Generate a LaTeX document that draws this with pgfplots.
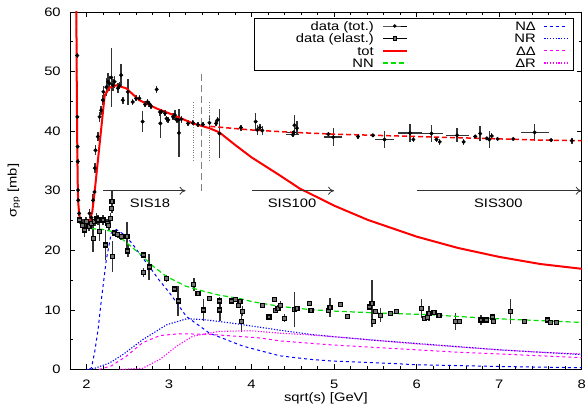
\documentclass[border=0pt]{standalone}
\usepackage{fontspec}
\setmainfont{Liberation Sans}[FakeStretch=1.2]
\usepackage{pgfplots}
\pgfplotsset{compat=1.18}
\usepackage{pgfplotstable}
\usetikzlibrary{arrows.meta}
\definecolor{gpred}{RGB}{255,0,0}
\definecolor{gpgreen}{RGB}{0,225,0}
\definecolor{gpblue}{RGB}{0,0,255}
\definecolor{gpmag}{RGB}{255,0,255}

\pgfplotstableread{
x y ex ey
1.887 52.7 0 0.5
1.889 42.4 0 0.5
1.892 37.4 0 0.5
1.894 34.9 0 0.4
1.897 30.1 0 0.4
1.900 28.4 0 0.4
1.910 26.2 0 0.4
1.940 24.5 0 0.8
1.970 23.9 0 1.0
2.000 24.8 0 0.8
2.036 26.2 0 0.8
2.060 25.5 0 1.0
2.080 28.4 0 1.0
2.097 29.8 0 0.8
2.100 33.8 0 0.8
2.109 36.8 0 0.8
2.137 39.1 0 0.8
2.158 42.4 0 0.8
2.178 43.5 0 0.8
2.198 45.2 0 0.8
2.205 46.6 0 1.0
2.240 47.4 0 1.5
2.260 48.3 0 1.5
2.280 48.0 0 1.2
2.300 49.0 0 5.0
2.320 47.7 0 1.0
2.340 48.3 0 1.0
2.380 47.2 0 0.8
2.400 47.6 0 0.6
2.420 49.4 0 1.8
2.440 45.2 0 0.6
2.500 46.6 0 2.2
2.560 44.9 0 0.5
2.600 45.5 0 0.5
2.640 45.5 0 0.5
2.680 41.6 0 1.8
2.710 44.5 0 0.5
2.740 44.9 0 0.5
2.760 44.6 0 0.5
2.780 44.2 0 0.4
2.850 47.0 0 0.6
2.890 43.2 0 0.6
2.895 41.3 0 2.5
2.910 43.3 0 0.5
2.950 43.0 0 0.5
2.970 42.1 0 0.5
2.990 41.9 0 0.5
3.050 42.4 0 0.6
3.070 42.7 0 0.8
3.090 41.9 0 0.6
3.110 41.9 0 0.5
3.120 39.7 0 4.0
3.150 42.0 0 0.6
3.230 41.3 0 0.5
3.290 41.4 0 0.4
3.350 41.1 0 0.4
3.410 41.1 0 0.4
3.490 41.4 0 1.1
3.570 41.3 0 0.5
3.590 41.9 0 0.5
3.610 39.6 0 4.1
3.870 40.6 0 0.5
4.050 41.6 0 1.5
4.070 40.2 0 0.8
4.100 40.6 0 0.6
4.130 40.1 0 0.8
4.500 39.4 0.08 0.3
4.520 41.0 0 1.7
4.550 40.5 0 1.2
4.510 39.8 0.09 0.3
4.930 39.5 0 0.4
4.990 39.0 0.11 1.5
5.290 39.1 0 0.4
5.470 39.3 0 0.3
5.610 38.6 0.12 1.4
5.920 39.7 0.14 1.5
5.960 38.6 0 0.5
6.180 39.6 0.14 1.4
6.240 38.6 0 0.5
6.280 38.2 0 0.5
6.490 39.3 0.14 1.2
6.570 38.2 0 0.5
6.710 39.1 0 0.3
6.770 39.6 0 1.2
6.850 38.8 0 0.3
6.880 38.6 0 1.5
6.910 39.2 0 0.5
6.980 38.7 0 0.2
7.170 38.7 0 0.2
7.430 39.8 0.17 1.4
7.630 38.5 0 0.2
7.880 38.4 0 0.5
}\totdata

\pgfplotstableread{
x y ex ey
1.915 25.1 0 0.5
1.955 24.2 0 1.0
1.976 23.4 0 1.2
1.996 24.8 0 0.8
2.030 24.0 0 0.8
2.060 24.5 0 1.0
2.080 22.0 0 2.2
2.100 24.8 0 0.8
2.120 25.4 0 0.8
2.140 25.1 0 0.8
2.160 23.1 0 1.6
2.200 25.1 0 0.8
2.230 20.9 0 2.5
2.250 24.5 0 0.8
2.270 24.2 0 0.8
2.290 25.4 0 0.8
2.300 27.0 0 0.8
2.310 28.2 0 2.0
2.315 18.9 0 2.6
2.340 22.9 0 0.5
2.380 22.6 0 0.5
2.420 22.3 0 0.5
2.490 22.3 0 2.5
2.500 19.9 0 1.0
2.690 19.2 0 0.5
2.690 16.3 0 0.8
2.760 17.2 0 2.2
2.970 15.3 0 0.6
3.070 13.5 0 0.5
3.110 11.5 0 2.5
3.300 14.3 0 1.1
3.350 12.8 0 0.4
3.420 10.0 0 1.9
3.490 11.9 0 0.3
3.610 11.5 0 0.7
3.615 10.0 0 1.8
3.760 11.5 0 0.3
3.810 11.8 0 0.3
3.840 10.7 0 0.4
3.860 11.4 0 0.3
3.890 9.8 0 0.8
3.880 8.0 0 1.7
4.130 10.8 0 0.3
4.210 8.8 0 0.3
4.280 11.7 0 0.3
4.290 9.9 0 0.4
4.320 10.3 0 0.5
4.350 10.8 0 0.7
4.400 8.6 0 0.7
4.520 10.1 0 2.9
4.550 10.3 0 0.4
4.700 11.1 0 0.3
4.720 9.9 0 0.3
4.930 9.9 0 0.3
4.950 10.4 0 1.6
5.080 10.9 0 0.3
5.160 8.9 0 0.3
5.430 10.5 0 0.3
5.460 11.1 0 3.9
5.480 8.1 0 0.3
5.500 9.7 0 0.3
5.560 9.1 0 1.2
5.680 9.4 0 0.3
5.760 9.7 0 0.3
6.060 10.3 0 1.6
6.100 8.6 0 0.3
6.130 8.7 0 0.3
6.150 9.4 0 1.2
6.210 9.6 0 0.3
6.270 9.0 0 0.3
6.470 8.0 0 1.4
6.520 8.1 0 0.3
6.780 8.3 0 0.9
6.850 8.3 0 0.3
6.920 8.8 0 0.3
6.930 8.0 0 0.3
7.140 9.8 0 2.1
7.310 8.0 0 0.3
7.590 8.3 0 0.3
7.620 7.9 0 0.3
7.690 7.9 0 0.3
}\elasdata

\begin{document}
\fontsize{12.3}{14.5}\selectfont
\begin{tikzpicture}
\begin{axis}[
  width=511.7pt, height=357.5pt, scale only axis,
  xmin=1.8, xmax=8, ymin=0, ymax=60,
  xtick={2,3,4,5,6,7,8}, ytick={0,10,20,30,40,50,60},
  minor x tick num=4, minor y tick num=1,
  tick align=inside, major tick length=5pt, minor tick length=3pt,
  axis line style={line width=0.9pt, black},
  every tick/.style={line width=0.7pt, black},
  /pgf/number format/assume math mode=true,
  tick label style={font=\fontsize{12.3}{14.5}\selectfont},
  xticklabel style={yshift=-6pt},
  yticklabel style={xshift=-5pt},
  xlabel={sqrt(s) [GeV]},
  ylabel={σ\textsubscript{pp} [mb]},
  every axis x label/.style={at={(axis description cs:0.5,0)}, anchor=north, yshift=-18.5pt},
  every axis y label/.style={at={(axis description cs:-0.1094,0.5)}, anchor=center, rotate=90},
  legend columns=2, legend plot pos=right,
  legend image code/.code={\draw[mark repeat=2,mark phase=2,#1] plot coordinates {(0pt,0pt) (12pt,0pt) (24pt,0pt)};},
  legend style={at={(0.9836,0.982)}, anchor=north east, draw=black, line width=0.8pt,
    inner xsep=4pt, inner ysep=1pt, row sep=0pt,
    nodes={inner sep=0pt},
    font=\fontsize{12.3}{14.5}\selectfont,
    /tikz/column 1/.style={column sep=8pt},
    /tikz/column 2/.style={column sep=48pt},
    /tikz/column 3/.style={column sep=8pt}},
  error bars/error bar style={line width=1.5pt, black!80},
  error bars/error mark=none,
]
\coordinate (ll) at (rel axis cs:0,0);
\coordinate (ur) at (rel axis cs:1,1);

% data
\addplot[forget plot, only marks, mark=*, mark size=1.8pt, black,
  error bars/.cd, x dir=both, x explicit, y dir=both, y explicit]
  table[x=x, y=y, x error=ex, y error=ey] {\totdata};
\addplot[forget plot, only marks, mark=square*, mark size=2pt, mark options={line width=1.2pt, fill=black!55, draw=black}, black,
  error bars/.cd, x dir=both, x explicit, y dir=both, y explicit]
  table[x=x, y=y, x error=ex, y error=ey] {\elasdata};

% vertical markers
\addplot[forget plot, gray, line width=1.3pt, dash pattern=on 7pt off 4pt] coordinates {(3.39,30) (3.39,50)};
\addplot[forget plot, gray, line width=0.8pt, dash pattern=on 1pt off 1.5pt] coordinates {(3.29,35) (3.29,45)};
\addplot[forget plot, gray, line width=0.8pt, dash pattern=on 1pt off 1.5pt] coordinates {(3.49,35) (3.49,45)};

% model curves
\addplot[forget plot, gpblue, line width=1pt, dash pattern=on 3pt off 3pt] coordinates {
(2.04,0) (2.06,0.3) (2.10,3) (2.14,6.7) (2.18,11.7) (2.24,18.4) (2.30,22.9) (2.36,23.5)
(2.45,22.7) (2.55,21.2) (2.65,19.3) (2.76,17.3) (2.88,15.0) (3.01,12.8) (3.21,8.9) (3.49,6.1)
(3.9,3.9) (4.34,2.3) (4.71,1.7) (5.0,1.4) (5.56,1.1) (6.0,0.8) (7.0,0.5) (8.0,0.3)};
\addplot[forget plot, gpblue, line width=1.1pt, dash pattern=on 1.2pt off 1.6pt] coordinates {
(2.0,0) (2.1,0.2) (2.28,1.1) (2.45,2.6) (2.68,5.0) (2.97,7.5) (3.21,8.5) (3.4,8.4) (3.70,7.9)
(4.0,7.3) (4.34,6.6) (4.71,5.9) (5.0,5.5) (5.5,4.9) (6.16,4.2) (7.0,3.3) (7.5,2.9) (8.0,2.5)};
\addplot[forget plot, gpmag, line width=1pt, dash pattern=on 3pt off 3pt] coordinates {
(2.15,0) (2.3,0.6) (2.48,2.2) (2.68,4.5) (2.89,5.7) (3.13,6.0) (3.49,5.9) (4.1,5.3) (4.34,4.8)
(4.71,4.4) (5.0,4.1) (5.5,3.7) (6.0,3.3) (6.5,2.9) (7.0,2.6) (7.5,2.3) (8.0,2.0)};
\addplot[forget plot, gpmag, line width=1.1pt, dash pattern=on 1.2pt off 1.6pt] coordinates {
(2.4,0) (2.68,0.2) (2.89,1.7) (3.09,3.9) (3.29,5.6) (3.61,6.4) (4.0,6.5) (4.34,6.1) (4.71,5.8)
(5.0,5.5) (5.5,4.9) (6.0,4.3) (6.5,3.8) (7.0,3.3) (7.5,2.9) (8.0,2.6)};
\addplot[forget plot, gpgreen, line width=1.2pt, dash pattern=on 5pt off 3pt] coordinates {
(1.876,64) (1.880,52) (1.885,42) (1.890,35) (1.895,30) (1.900,28) (1.910,26.3) (1.920,25.3)
(1.940,24.3) (1.960,23.9) (2.0,23.7) (2.1,23.6) (2.2,23.5) (2.3,23.2) (2.4,22.3) (2.5,21.1)
(2.64,19.5) (2.8,17.4) (2.97,15.6) (3.2,14.0) (3.4,13.2) (3.6,12.5) (3.86,11.9) (4.0,11.4)
(4.34,10.6) (4.71,10.05) (5.0,9.8) (5.5,9.5) (6.16,9.2) (6.5,8.9) (7.0,8.5) (7.5,8.2) (8.0,7.9)};
\addplot[forget plot, gpred, line width=1.5pt, dash pattern=on 5pt off 3pt] coordinates {
(3.5,40.8) (4.0,40.2) (4.5,39.8) (5.0,39.5) (5.5,39.3) (6.0,39.1) (6.5,38.9) (7.0,38.7) (7.5,38.5) (8.0,38.4)};
\addplot[forget plot, gpred, line width=2pt] coordinates {
(1.876,64) (1.880,52) (1.885,42) (1.890,35) (1.895,30) (1.900,28) (1.910,26.3) (1.920,25.3)
(1.940,24.3) (1.960,23.9) (2.0,23.8) (2.02,24.0) (2.04,25.0) (2.07,26.5) (2.1,30) (2.16,38)
(2.22,46) (2.28,47.3) (2.36,47.7) (2.48,47.2) (2.64,45.2) (2.85,43.8) (3.0,43.0) (3.29,41.3)
(3.49,40.5) (3.61,39.8) (3.8,37.7) (4.0,35.6) (4.34,32.6) (4.58,30.4) (5.0,27.5) (5.41,25.1)
(6.0,22.3) (6.5,20.4) (7.0,18.9) (7.5,17.7) (8.0,16.9)};

% arrows and labels
\draw[black!80, line width=0.8pt, -{To[length=6pt,width=8pt]}] (axis cs:2.2,30) -- (axis cs:3.2,30);
\draw[black!80, line width=0.8pt, -{To[length=6pt,width=8pt]}] (axis cs:4.0,30) -- (axis cs:5.0,30);
\draw[black!80, line width=0.8pt, -{To[length=6pt,width=8pt]}] (axis cs:6.0,30) -- (axis cs:8.0,30);
\node at (axis cs:2.77,27.9) {SIS18};
\node at (axis cs:4.49,27.9) {SIS100};
\node at (axis cs:6.99,27.9) {SIS300};

% legend
\addlegendimage{black, line width=0.8pt, mark=*, mark size=1.3pt}
\addlegendentry{\makebox[115pt][r]{\rule[-3.5pt]{0pt}{14pt}data (tot.)}}
\addlegendimage{gpblue, line width=1pt, dash pattern=on 3pt off 3pt}
\addlegendentry{\makebox[80pt][r]{\rule[-3.5pt]{0pt}{14pt}NΔ}}
\addlegendimage{black, line width=0.8pt, mark=square*, mark size=1.8pt, mark options={fill=black!55}}
\addlegendentry{\makebox[115pt][r]{\rule[-3.5pt]{0pt}{14pt}data (elast.)}}
\addlegendimage{gpblue, line width=1.1pt, dash pattern=on 1.2pt off 1.6pt}
\addlegendentry{\makebox[80pt][r]{\rule[-3.5pt]{0pt}{14pt}NR}}
\addlegendimage{gpred, line width=2pt}
\addlegendentry{\makebox[115pt][r]{\rule[-3.5pt]{0pt}{14pt}tot}}
\addlegendimage{gpmag, line width=1pt, dash pattern=on 3pt off 3pt}
\addlegendentry{\makebox[80pt][r]{\rule[-3.5pt]{0pt}{14pt}ΔΔ}}
\addlegendimage{gpgreen, line width=1.2pt, dash pattern=on 5pt off 3pt}
\addlegendentry{\makebox[115pt][r]{\rule[-3.5pt]{0pt}{14pt}NN}}
\addlegendimage{gpmag, line width=1.1pt, dash pattern=on 1.2pt off 1.6pt}
\addlegendentry{\makebox[80pt][r]{\rule[-3.5pt]{0pt}{14pt}ΔR}}
\end{axis}
\pgfresetboundingbox
\path[use as bounding box] ([xshift=-70pt,yshift=-46.5pt]ll) rectangle ([xshift=6.3pt,yshift=12pt]ur);
\end{tikzpicture}
\end{document}
